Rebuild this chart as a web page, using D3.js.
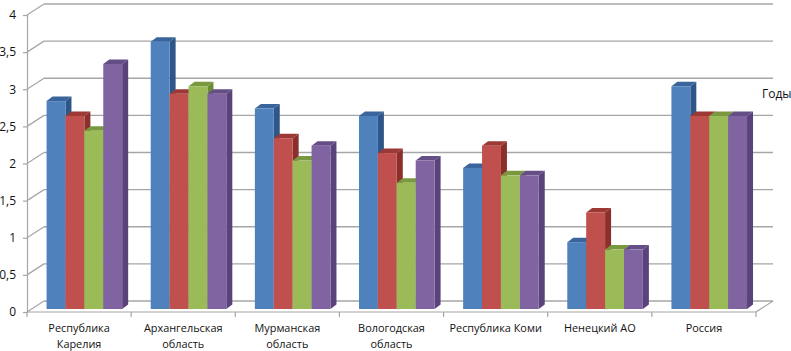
<!DOCTYPE html>
<html><head><meta charset="utf-8">
<script src="https://cdn.jsdelivr.net/npm/d3@7"></script>
<style>html,body{margin:0;padding:0;background:#fff}svg{display:block}text{font-family:"Open Sans",sans-serif;fill:#111}</style>
</head><body><svg id="c" width="791" height="351"></svg>
<script>
const categories=["Республика\nКарелия","Архангельская\nобласть","Мурманская\nобласть","Вологодская\nобласть","Республика Коми","Ненецкий АО","Россия"];
const seriesA=[2.8,3.6,2.7,2.6,1.9,0.9,3.0];
const seriesB=[2.6,2.9,2.3,2.1,2.2,1.3,2.6];
const seriesC=[2.4,3.0,2.0,1.7,1.8,0.8,2.6];
const seriesD=[3.3,2.9,2.2,2.0,1.8,0.8,2.6];
const yTicks=[0,0.5,1,1.5,2,2.5,3,3.5,4];
const faceColors=["#4f81bd","#c0504d","#9bbb59","#8064a2"];
const sideColors=["#2f5688","#8a2f2c","#6d8a37","#59437a"];
const topColors=["#3a659c","#9c3835","#7a9840","#654e86"];
const unitLabel="Годы";

const series=[seriesA,seriesB,seriesC,seriesD];
const svg=d3.select("#c");
const x=d3.scaleBand().domain(categories).range([27,756]).paddingInner(0).paddingOuter(0);
const y=d3.scaleLinear().domain([0,4]).range([312,15]);
const wallDx=17,wallDy=11,barDx=6,barDy=4.5,baseLift=3,barShift=5.3;
const barW=18.9;
const grey="#a6a6a6";

const g=svg.append("g");
yTicks.forEach(t=>{
  g.append("line").attr("x1",x.range()[0]).attr("y1",y(t)).attr("x2",x.range()[0]+wallDx).attr("y2",y(t)-wallDy).attr("stroke",grey).attr("stroke-width",1.2);
  g.append("line").attr("x1",x.range()[0]+wallDx).attr("y1",y(t)-wallDy).attr("x2",x.range()[1]+wallDx).attr("y2",y(t)-wallDy).attr("stroke",grey).attr("stroke-width",1.4);
});
g.append("line").attr("x1",x.range()[1]).attr("y1",y(0)).attr("x2",x.range()[1]+wallDx).attr("y2",y(0)-wallDy).attr("stroke",grey).attr("stroke-width",1.2);

const yAxis=d3.axisLeft(y).tickValues(yTicks).tickSize(4).tickPadding(7).tickFormat(d=>String(d).replace(".",","));
const ya=svg.append("g").attr("transform","translate(27,0)").call(yAxis);
ya.selectAll("path,line").attr("stroke",grey).attr("stroke-width",1.2);
ya.selectAll("text").attr("font-size",12);

const xAxis=d3.axisBottom(x).tickSize(0).tickFormat("");
const xa=svg.append("g").attr("transform",`translate(0,${y(0)})`).call(xAxis);
xa.select("path").attr("stroke",grey).attr("stroke-width",1.2).attr("d",`M${x.range()[0]},0H${x.range()[1]}`);
xa.selectAll(".tick line").remove();
xa.selectAll(".tick text").remove();
const edges=categories.map(c=>x(c)).concat([x.range()[1]]);
xa.selectAll("line.edge").data(edges).join("line").attr("class","edge")
  .attr("x1",d=>d).attr("x2",d=>d).attr("y1",0).attr("y2",5).attr("stroke",grey).attr("stroke-width",1.2);
xa.selectAll("text.cat").data(categories).join("text").attr("class","cat")
  .attr("text-anchor","middle").attr("font-size",10.9)
  .attr("transform",d=>`translate(${x(d)+x.bandwidth()/2},0)`)
  .each(function(d){
    d.split("\n").forEach((s,i)=>d3.select(this).append("tspan").attr("x",0).attr("y",20+i*16).text(s));
  });

const bars=svg.append("g");
categories.forEach((c,i)=>{
  const x0=x(c)+x.bandwidth()/2-barW*2+barShift;
  series.forEach((s,k)=>{
    const v=s[i],l=x0+k*barW,r=l+barW,t=y(v)-baseLift,b=y(0)-baseLift;
    const gb=bars.append("g");
    gb.append("polygon").attr("fill",sideColors[k]).attr("points",[[r,t],[r+barDx,t-barDy],[r+barDx,b-barDy],[r,b]].join(" "));
    gb.append("polygon").attr("fill",topColors[k]).attr("points",[[l,t],[l+barDx,t-barDy],[r+barDx,t-barDy],[r,t]].join(" "));
    gb.append("rect").attr("x",l).attr("y",t).attr("width",barW).attr("height",b-t).attr("fill",faceColors[k]);
  });
});

svg.append("text").attr("x",762).attr("y",98).attr("font-size",12).text(unitLabel);
</script></body></html>
